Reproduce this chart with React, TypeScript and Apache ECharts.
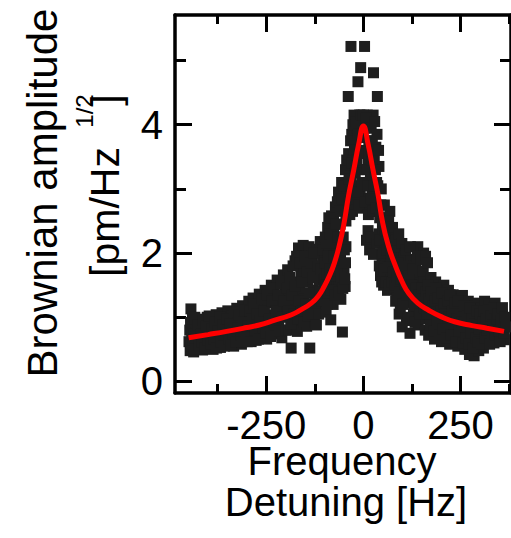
import React, { useEffect, useRef } from "react";
import * as echarts from "echarts";

// Measured Brownian amplitude points: [frequency detuning (Hz), amplitude (pm/Hz^1/2)]
const leftTail: number[][] = [
  [-449, 0.62], [-447, 0.8], [-446, 0.48], [-444, 1.13], [-442, 0.7], [-441, 0.55], [-439, 0.88], [-437, 0.46],
  [-436, 0.66], [-432, 0.92], [-428, 0.52], [-425, 0.76], [-421, 0.6], [-418, 0.97], [-414, 0.49], [-410, 0.82],
  [-406, 0.67], [-402, 1.0], [-398, 0.54], [-395, 0.78], [-391, 0.95], [-387, 0.5], [-383, 0.7], [-379, 1.04],
  [-376, 0.6], [-372, 0.86], [-368, 0.53], [-364, 1.07], [-360, 0.72], [-357, 0.94], [-353, 0.57], [-349, 1.1],
  [-345, 0.8], [-342, 0.62], [-338, 1.02], [-334, 0.55], [-330, 0.88], [-326, 1.14], [-322, 0.68], [-318, 0.96],
  [-314, 0.58], [-311, 1.18], [-307, 0.78], [-303, 1.05], [-299, 0.62], [-295, 1.25], [-291, 0.9], [-288, 0.7],
  [-284, 1.3], [-280, 1.08], [-276, 0.64], [-272, 0.84], [-268, 1.36], [-264, 1.15], [-260, 0.72], [-257, 0.96],
  [-253, 1.42], [-249, 0.66], [-245, 1.22], [-241, 0.88], [-237, 1.5], [-233, 1.04], [-229, 0.74], [-226, 1.32],
  [-222, 1.58], [-218, 0.92], [-214, 1.18], [-210, 0.68], [-206, 1.66], [-202, 1.4], [-198, 1.02],
];
const leftTailExtra: number[][] = [
  [-445, 0.92], [-443, 0.58], [-440, 0.98], [-438, 0.64], [-435, 0.74], [-433, 0.5], [-434, 1.0], [-430, 0.7],
  [-426, 0.88], [-423, 0.56], [-419, 0.74], [-416, 0.62], [-412, 0.95], [-408, 0.52], [-404, 0.86], [-400, 0.64],
  [-397, 1.02], [-393, 0.58], [-389, 0.82], [-385, 0.66], [-381, 0.92], [-378, 0.52], [-374, 0.78], [-370, 1.0],
  [-366, 0.62], [-362, 0.88], [-358, 0.55], [-355, 0.8], [-351, 0.98], [-347, 0.66], [-343, 0.9], [-340, 0.56],
  [-336, 0.74], [-332, 1.08], [-328, 0.62], [-324, 0.84], [-320, 1.04], [-316, 0.72], [-312, 0.62], [-309, 0.92],
  [-305, 1.12], [-301, 0.7], [-297, 0.86], [-293, 1.1], [-289, 0.62], [-286, 0.98], [-282, 1.2], [-278, 0.8],
  [-274, 1.05], [-270, 0.66], [-266, 0.95], [-262, 1.28], [-258, 0.84], [-255, 1.1], [-251, 0.75], [-247, 1.35],
  [-243, 0.98], [-239, 0.7], [-235, 1.25], [-231, 1.45], [-227, 0.88], [-224, 1.1], [-220, 1.35], [-216, 0.78],
  [-212, 1.52], [-208, 1.0], [-204, 1.25], [-200, 0.8],
];
const leftShoulder: number[][] = [
  [-195, 1.74], [-192, 0.8], [-188, 1.25], [-186, 0.52], [-183, 1.55], [-180, 0.95], [-176, 1.88], [-173, 1.12],
  [-170, 0.78], [-167, 2.08], [-164, 1.4], [-161, 1.7], [-158, 0.98], [-155, 2.12], [-152, 1.28], [-149, 1.86],
  [-146, 0.86], [-143, 1.55], [-140, 2.1], [-138, 0.52], [-135, 1.18], [-132, 1.96], [-129, 1.42], [-126, 0.95],
  [-123, 1.72], [-120, 2.06], [-117, 1.3], [-114, 1.58], [-111, 2.18], [-108, 1.12], [-105, 1.9], [-102, 1.45],
  [-197, 1.45], [-194, 1.1], [-190, 1.62], [-187, 0.9], [-184, 1.35], [-181, 1.8], [-178, 1.05], [-175, 1.48],
  [-172, 1.95], [-169, 0.98], [-166, 1.25], [-163, 1.85], [-160, 1.1], [-157, 1.55], [-154, 0.92], [-151, 1.95],
  [-148, 1.2], [-145, 1.7], [-142, 1.02], [-139, 1.38], [-136, 1.85], [-133, 1.05], [-130, 1.62], [-127, 2.0],
  [-124, 1.22], [-121, 0.88], [-118, 1.8], [-115, 1.05], [-112, 1.4], [-109, 1.75], [-106, 1.25], [-103, 2.05], [-100, 1.6],
];
const leftWing: number[][] = [
  [-98, 2.25], [-96, 1.08], [-94, 1.68], [-92, 2.4], [-90, 1.3], [-88, 2.0], [-86, 1.52], [-84, 0.96],
  [-82, 2.58], [-80, 1.85], [-78, 1.2], [-76, 2.3], [-74, 1.62], [-72, 2.72], [-70, 1.4], [-68, 2.1],
  [-66, 1.85], [-64, 2.95], [-62, 1.55], [-60, 2.45], [-58, 1.28], [-56, 3.1], [-54, 0.77], [-52, 2.25],
  [-50, 1.75], [-48, 2.7], [-46, 3.3], [-47, 1.48], [-42, 2.9], [-45, 2.1],
  [-99, 1.85], [-97, 1.5], [-95, 2.15], [-93, 1.2], [-91, 1.95], [-89, 2.55], [-87, 1.75], [-85, 2.3],
  [-83, 1.42], [-81, 2.15], [-79, 1.65], [-77, 2.55], [-75, 1.95], [-73, 1.35], [-71, 2.45], [-69, 1.72],
  [-67, 2.8], [-65, 2.25], [-63, 1.4], [-61, 2.65], [-59, 2.0], [-57, 1.62], [-55, 2.85], [-53, 1.45],
  [-51, 3.05], [-49, 2.05], [-48, 1.6], [-45, 2.5], [-43, 3.45], [-46, 1.85],
];
const peak: number[][] = [
  [-39, 4.44], [-38, 3.55], [-36, 2.8], [-32, 5.22], [-32, 3.2], [-30, 3.85], [-28, 2.65], [-26, 3.45],
  [-24, 4.15], [-22, 3.05], [-20, 3.7], [-18, 2.75], [-16, 3.95], [-14, 4.67], [-12, 3.3], [-10, 4.15],
  [-8, 2.9], [-7, 4.89], [-5, 3.6], [-3, 2.7], [-1, 3.8], [2, 3.1], [4, 3.95], [3, 5.22], [8, 2.85],
  [10, 4.15], [12, 3.4], [14, 3.75], [16, 2.7], [18, 3.2], [20, 3.95], [22, 2.95], [25, 4.15], [26, 4.81],
  [28, 3.5], [30, 2.8], [32, 3.65], [34, 3.1], [36, 4.44], [38, 2.65], [40, 3.35],
  [8, 2.2], [12, 2.35], [16, 2.05], [20, 2.25], [26, 1.98], [34, 2.15], [40, 2.3],
  [-37, 3.15], [-35, 2.6], [-33, 3.75], [-31, 2.95], [-29, 3.4], [-27, 4.0], [-25, 2.85], [-23, 3.6],
  [-21, 3.25], [-19, 4.05], [-17, 3.45], [-15, 2.95], [-13, 3.85], [-11, 2.75], [-9, 3.55], [-6, 4.15],
  [-4, 3.1], [0, 4.15], [3, 2.8], [7, 4.1], [9, 3.3], [11, 3.05], [13, 2.6],
  [15, 3.55], [17, 3.95], [19, 2.85], [21, 3.45], [23, 3.75], [24, 2.65], [27, 3.05], [29, 4.05],
  [31, 3.3], [33, 2.7], [35, 3.85], [37, 3.05], [39, 3.6],
];
const rightWing: number[][] = [
  [42, 2.55], [44, 1.65], [46, 3.0], [48, 1.95], [50, 2.3], [52, 1.5], [54, 2.75], [56, 2.1], [58, 1.8],
  [60, 2.45], [62, 1.42], [64, 2.2], [66, 1.95], [68, 2.65], [70, 1.6], [72, 2.35], [74, 1.8], [76, 2.05],
  [78, 1.45], [80, 2.25], [82, 1.7], [84, 1.95], [86, 1.3], [88, 2.15], [90, 1.55], [92, 1.05], [94, 1.85],
  [96, 2.05], [98, 1.35], [100, 0.85], [102, 1.65], [105, 1.95], [108, 1.22], [111, 0.95], [114, 1.75],
  [117, 1.45], [120, 0.75], [123, 1.9], [126, 1.3], [129, 1.05], [132, 1.62], [135, 1.8], [138, 1.18],
  [140, 2.1], [141, 0.88], [144, 1.5], [147, 1.7], [150, 1.25], [153, 0.98], [155, 2.0], [156, 1.58], [159, 0.8],
  [41, 1.8], [43, 2.2], [45, 2.75], [47, 1.55], [49, 2.45], [51, 2.0], [53, 1.75], [55, 2.35], [57, 2.55],
  [59, 1.55], [61, 2.05], [63, 1.78], [65, 2.5], [67, 1.5], [69, 2.15], [71, 1.95], [73, 1.55], [75, 2.4],
  [77, 1.7], [79, 2.1], [81, 1.5], [83, 1.25], [85, 2.2], [87, 1.62], [89, 1.85], [91, 2.3], [93, 1.4],
  [95, 1.1], [97, 1.6], [99, 2.15], [101, 1.2], [103, 1.8], [106, 1.5], [109, 2.05], [112, 1.35], [115, 1.0],
  [118, 1.65], [121, 2.1], [124, 1.5], [127, 1.75], [130, 1.2], [133, 0.92], [136, 1.45], [139, 1.95],
  [142, 1.35], [145, 1.05], [148, 1.9], [151, 1.45], [154, 1.72], [157, 1.15], [160, 1.95],
];
const rightTail: number[][] = [
  [162, 1.4], [165, 1.85], [168, 0.72], [171, 1.2], [174, 1.62], [177, 0.95], [180, 1.38], [183, 0.66],
  [186, 1.55], [189, 1.08], [192, 0.82], [195, 1.45], [198, 1.22], [201, 0.62], [204, 1.0], [207, 1.5],
  [210, 0.78], [213, 1.3], [216, 0.92], [219, 1.42], [222, 0.58], [225, 1.15], [228, 0.85], [231, 1.35],
  [234, 0.7], [237, 1.02], [240, 1.28], [243, 0.55], [246, 0.9], [249, 1.2], [252, 0.68], [255, 1.34],
  [258, 0.98], [261, 0.5], [264, 1.12], [267, 0.78], [270, 1.25], [273, 0.42], [276, 0.92], [279, 1.18],
  [282, 0.62], [285, 0.4], [288, 1.05], [291, 0.82], [294, 1.22], [297, 0.48], [300, 0.95], [303, 1.15],
  [306, 0.7], [309, 0.52], [312, 1.25], [315, 0.85], [318, 1.05], [321, 0.62], [324, 1.2], [327, 0.75],
  [330, 0.95], [333, 1.1], [336, 0.6], [339, 1.22], [342, 0.82], [345, 0.68], [348, 1.12], [351, 0.92],
  [354, 0.72], [357, 1.05], [360, 0.85], [363, 0.65],
];
const rightTailExtra: number[][] = [
  [163, 1.05], [166, 1.5], [169, 1.28], [172, 0.88], [175, 1.4], [178, 1.18], [181, 0.78], [184, 1.25],
  [187, 1.45], [190, 0.95], [193, 1.3], [196, 0.72], [199, 1.1], [202, 1.38], [205, 0.82], [208, 1.2],
  [211, 1.05], [214, 0.68], [217, 1.25], [220, 1.0], [223, 1.35], [226, 0.72], [229, 1.1], [232, 0.9],
  [235, 1.22], [238, 0.62], [241, 0.98], [244, 1.25], [247, 0.78], [250, 1.05], [253, 0.92], [256, 0.6],
  [259, 1.18], [262, 0.85], [265, 0.68], [268, 1.02], [271, 0.58], [274, 1.15], [277, 0.75], [280, 0.98],
  [283, 0.52], [286, 0.9], [289, 0.68], [292, 1.1], [295, 0.62], [298, 0.82], [301, 1.05], [304, 0.58],
  [307, 0.92], [310, 1.1], [313, 0.68], [316, 0.98], [319, 0.8], [322, 1.12], [325, 0.58], [328, 1.02],
  [331, 0.7], [334, 0.88], [337, 1.15], [340, 0.72], [343, 0.98], [346, 1.05], [349, 0.78], [352, 0.62],
  [355, 0.95], [358, 1.15], [361, 0.75], [364, 1.0], [366, 0.85],
];

// Fitted curve
const fitFreq = [-450, -400, -352, -300, -268, -230, -185, -160, -134, -115, -101, -88, -75, -62, -50, -38, -25, -12, 0, 12, 25, 38, 50, 65, 80, 100, 117, 140, 168, 200, 235, 280, 318, 362];
const fitAmp = [0.68, 0.73, 0.78, 0.84, 0.88, 0.95, 1.04, 1.12, 1.22, 1.34, 1.48, 1.64, 1.84, 2.12, 2.46, 2.9, 3.29, 3.7, 3.98, 3.7, 3.29, 2.9, 2.46, 2.1, 1.84, 1.55, 1.37, 1.22, 1.11, 1.01, 0.93, 0.87, 0.83, 0.78];

const xMajor = [-250, 0, 250];
const xMinor = [-375, -125, 125, 375];
const yMajor = [0, 2, 4];
const yMinor = [1, 3, 5];

const FONT = "Liberation Sans, Arial, Helvetica, sans-serif";

export default function App() {
  const ref = useRef<HTMLDivElement>(null);
  useEffect(() => {
    if (!ref.current) return;
    const chart = echarts.init(ref.current, null, { renderer: "svg" });
    const points = [
      ...leftTail, ...leftTailExtra, ...leftShoulder, ...leftWing, ...peak,
      ...rightWing, ...rightTail, ...rightTailExtra,
    ];
    const fit = fitFreq.map((f, i) => [f, fitAmp[i]]);
    const xMin = -485, xMax = 380, yMin = -0.18, yMax = 5.71;
    const axisLineStyle = { color: "#000", width: 3.5 };
    const tickStyle = { color: "#000", width: 3 };
    const xAx = (position: string, ticks: number[], len: number, showLine: boolean, showLabel: boolean) => ({
      type: "value", min: xMin, max: xMax, position,
      axisLine: { show: showLine, onZero: false, lineStyle: axisLineStyle },
      axisTick: { show: true, inside: true, length: len, customValues: ticks, lineStyle: tickStyle },
      axisLabel: showLabel
        ? { show: true, customValues: ticks, fontSize: 40, lineHeight: 30, color: "#000", fontFamily: FONT, margin: 17 }
        : { show: false },
      splitLine: { show: false },
    });
    const yAx = (position: string, ticks: number[], len: number, showLine: boolean, showLabel: boolean) => ({
      type: "value", min: yMin, max: yMax, position,
      axisLine: { show: showLine, onZero: false, lineStyle: axisLineStyle },
      axisTick: { show: true, inside: true, length: len, customValues: ticks, lineStyle: tickStyle },
      axisLabel: showLabel
        ? { show: true, customValues: ticks, fontSize: 40, color: "#000", fontFamily: FONT, margin: 12 }
        : { show: false },
      splitLine: { show: false },
    });
    const txt = (text: string, x: number, y: number, size: number, rot: number, lh: number) => ({
      type: "text", x, y, rotation: rot,
      style: { text, font: `${size}px ${FONT}`, lineHeight: lh, fill: "#000", align: "center", verticalAlign: "middle" },
    });
    chart.setOption({
      animation: false,
      backgroundColor: "#fff",
      grid: { left: 175, top: 15, right: -6, bottom: 145, containLabel: false },
      xAxis: [
        xAx("bottom", xMajor, 17, true, true),
        xAx("bottom", xMinor, 9, false, false),
        xAx("top", xMajor, 17, true, false),
        xAx("top", xMinor, 9, false, false),
      ],
      yAxis: [
        yAx("left", yMajor, 17, true, true),
        yAx("left", yMinor, 11, false, false),
        yAx("right", yMajor, 17, true, false),
        yAx("right", yMinor, 11, false, false),
      ],
      series: [
        {
          type: "scatter", data: points, symbol: "rect", symbolSize: 11,
          itemStyle: { color: "#1e1e1e", opacity: 1 }, xAxisIndex: 0, yAxisIndex: 0, z: 2,
        },
        {
          type: "line", data: fit, smooth: true, showSymbol: false, symbol: "none",
          lineStyle: { color: "#ff0000", width: 5 }, xAxisIndex: 0, yAxisIndex: 0, z: 3,
        },
      ],
      graphic: [
        txt("Frequency", 342, 461, 40, 0, 32),
        txt("Detuning [Hz]", 346, 502, 40, 0, 32),
        txt("Brownian amplitude", 42, 193, 42, Math.PI / 2, 42),
        txt("[pm/Hz", 105, 212, 41, Math.PI / 2, 41),
        txt("1/2", 84, 111, 24, Math.PI / 2, 24),
        txt("]", 106, 100, 41, Math.PI / 2, 41),
      ],
    });
    return () => chart.dispose();
  }, []);
  return <div ref={ref} style={{ position: "fixed", left: 0, top: 0, width: 511, height: 538 }} />;
}
